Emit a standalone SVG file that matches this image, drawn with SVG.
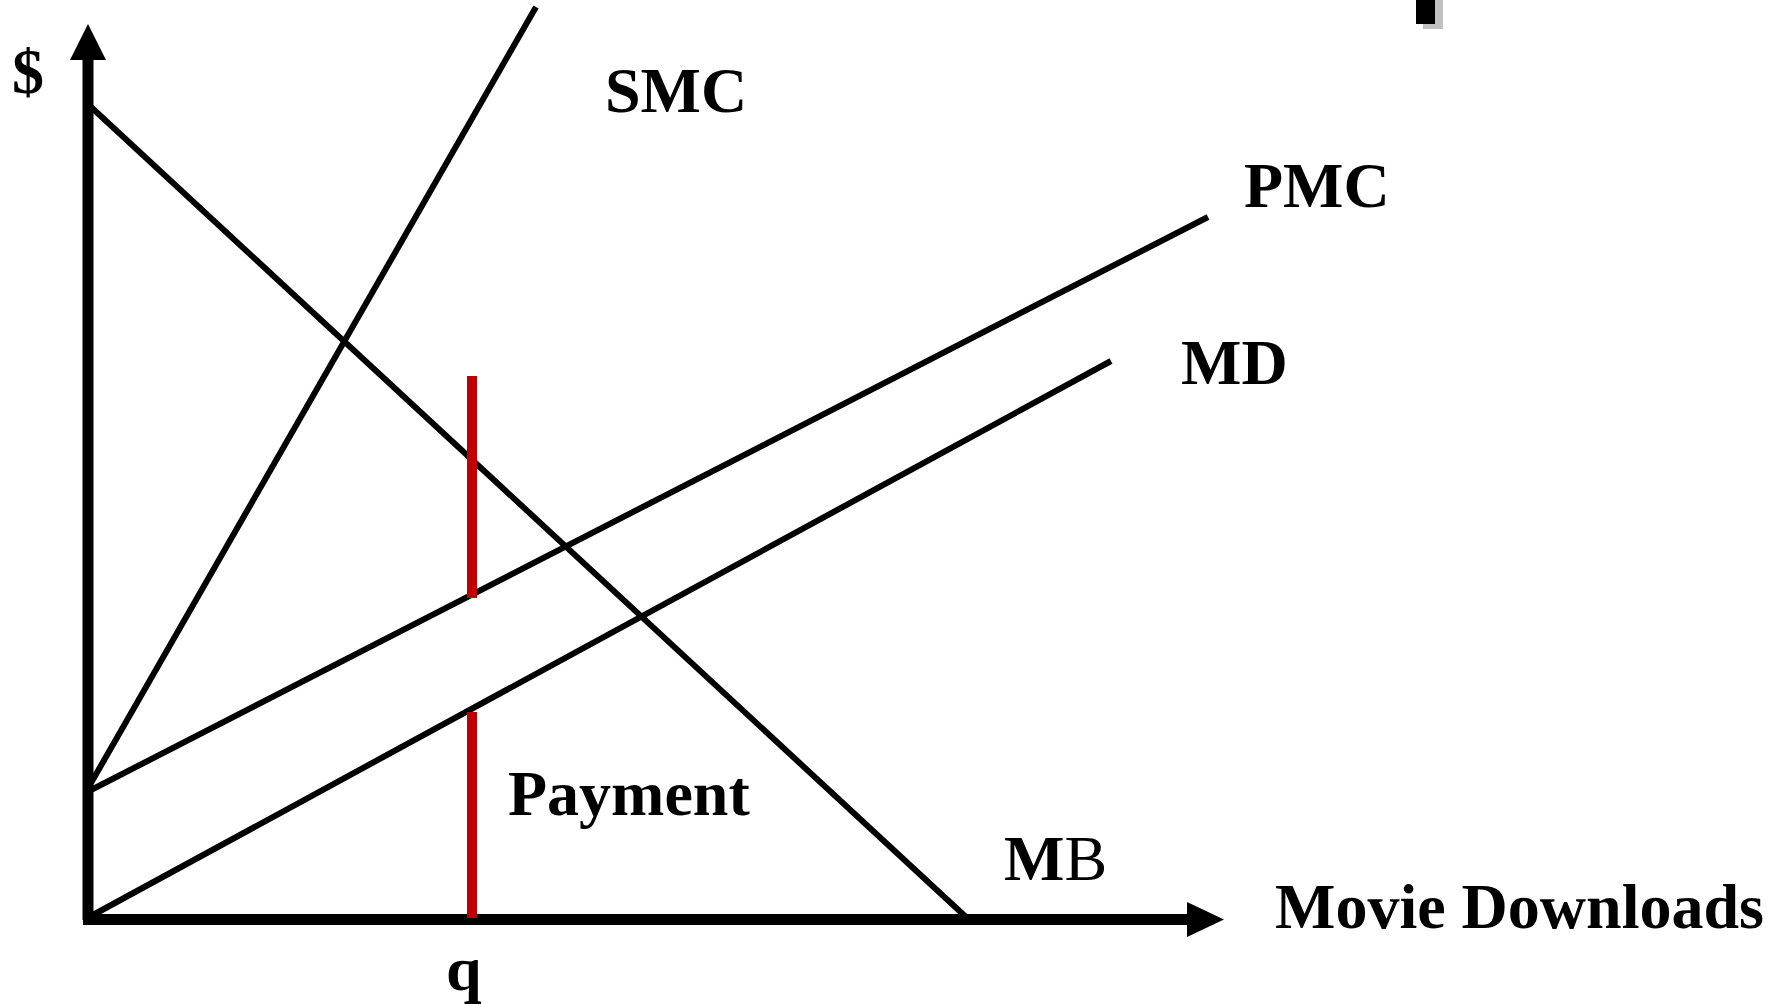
<svg xmlns="http://www.w3.org/2000/svg" width="1781" height="1004" viewBox="0 0 1781 1004">
<style>
.lbl{font-family:"Liberation Serif","Times New Roman",serif;font-weight:bold;font-size:64px;fill:#000}
.curve{stroke:#000;stroke-width:6;fill:none}
.axis{stroke:#000;stroke-width:11;fill:none}
.red{stroke:#c00000;stroke-width:10;fill:none}
</style>
<rect width="1781" height="1004" fill="#fff"/>
<g id="corner-mark">
<rect x="1423" y="0" width="20" height="29" fill="#c0c0c0"/>
<rect x="1416" y="0" width="19" height="24" fill="#000"/>
</g>
<g id="axes">
<line class="axis" x1="88" y1="58" x2="88" y2="920"/>
<polygon points="70,60 106,60 88,24" fill="#000"/>
<line class="axis" x1="83" y1="919.5" x2="1190" y2="919.5"/>
<polygon points="1187,902 1187,937 1224,919.5" fill="#000"/>
</g>
<g id="connectors">
<line id="smc-line" class="curve" x1="91" y1="783" x2="536" y2="7"/>
<line id="mb-line" class="curve" x1="91" y1="107" x2="966" y2="917"/>
<line id="pmc-line" class="curve" x1="91" y1="790" x2="1208" y2="217"/>
<line id="md-line" class="curve" x1="91" y1="916" x2="1111" y2="361"/>
<line id="tax-segment" class="red" x1="472" y1="376" x2="472" y2="598"/>
<line id="payment-segment" class="red" x1="472" y1="712" x2="472" y2="918"/>
</g>
<g id="label-dollar"><text class="lbl" x="28" y="93" text-anchor="middle">$</text></g>
<g id="label-smc"><text class="lbl" x="605" y="112">SMC</text></g>
<g id="label-pmc"><text class="lbl" x="1244" y="207">PMC</text></g>
<g id="label-md"><text class="lbl" x="1181" y="384">MD</text></g>
<g id="label-payment"><text class="lbl" x="508" y="815">Payment</text></g>
<g id="label-mb"><text class="lbl" x="1004" y="880">M<tspan font-weight="normal">B</tspan></text></g>
<g id="label-x"><text class="lbl" x="1275" y="928">Movie Downloads</text></g>
<g id="label-q"><text class="lbl" x="446" y="990">q</text></g>
</svg>
